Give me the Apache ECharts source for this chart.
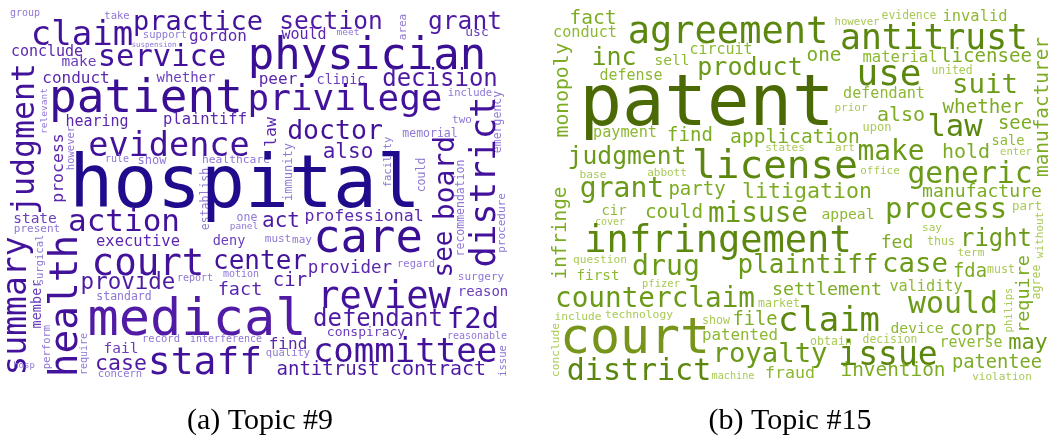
<!DOCTYPE html>
<html>
<head>
    <meta charset="utf-8">
    <style>
        html, body { margin: 0; padding: 0; background: #ffffff; }
        #chart { width: 1052px; height: 443px; }
    </style>
    <script src="https://cdn.jsdelivr.net/npm/echarts@6/dist/echarts.min.js"></script>
</head>
<body>
<div id="chart"></div>
<script type="text/javascript">
    // Topic #9 (left cloud): word, weight, placement in the picture, vertical flag
    var words9 = ["group","claim","take","practice","support","suspension","conclude","service","make","conduct",
        "whether","judgment","patient","relevant","hearing","plaintiff","evidence","process","however","rule",
        "show","section","gordon","would","meet","physician","peer","clinic","privilege","law",
        "doctor","also","healthcare","immunity","establish","grant","area","usc","decision","include",
        "emergency","two","memorial","district","facility","could","board","see","recommendation","procedure",
        "hospital","professional","care","regard","provider","surgery","review","reason","defendant","f2d",
        "conspiracy","reasonable","committee","issue","antitrust","contract","action","state","present","executive",
        "summary","surgical","health","court","provide","member","standard","medical","perform","record",
        "fail","require","case","staff","hosp","concern","act","one","panel","deny",
        "must","may","center","cir","report","motion","fact","interference","find","quality"];
    var weight9 = [10,34,10.5,27,10.5,7.5,15,30.5,14.5,16,
        14,31.5,46,9.5,15,15.5,33.5,16.5,10.5,10,
        12,24.5,16,15,9.5,44,16,13.5,36,16.5,
        26.5,21,11.3,12,11.5,24.5,11,13,24,10.5,
        11.5,11,11.5,35.5,10.5,11.5,28,26,11.5,11,
        73,16.5,45.5,10.5,17.5,11,37,14,24,29,
        13,10,34,10.5,19,20,31,14.5,11,15.5,
        33,10.5,39.5,37.5,22.5,13.5,11.5,52,10.5,10.5,
        14.5,10,21.5,38,9,10.5,21,11.5,9.5,13.5,
        11,11,26,19,10,10,18.5,10,16,10.5];
    var x9 = [25,82,117,198,165,154,47,162,79,76,
        186,26,146,45,97,205,169,59,71,117,
        152,331,218,304,348,367,278,341,345,272,
        335,348,236,289,206,465,403,477,440,470,
        498,462,430,486,388,422,447,445,461,502,
        245,364,368,416,350,481,384,483,378,473,
        366,477,405,503,328,438,124,35,37,138,
        17,40,67,148,128,37,124,197,47,161,
        121,84,121,205,24,120,281,247,244,229,
        278,302,260,290,195,241,240,226,288,288];
    var y9 = [13,36,16,23,35,45,52,58,62,79,
        78,139,100,111,122,120,147,168,148,159,
        161,23,37,35,33,58,80,80,101,132,
        132,153,160,172,199,23,27,33,80,93,
        122,120,134,182,162,175,178,254,208,223,
        188,217,240,264,268,277,298,292,320,320,
        333,336,353,361,370,370,223,219,229,242,
        306,260,306,265,283,304,297,321,347,339,
        349,354,364,364,366,374,222,218,227,241,
        239,240,262,281,278,274,290,339,345,353];
    var vert9 = [0,0,0,0,0,0,0,0,0,0,
        0,1,0,1,0,0,0,1,1,0,
        0,0,0,0,0,0,0,0,0,1,
        0,0,0,1,1,0,1,0,0,0,
        1,0,0,1,1,1,1,1,1,1,
        0,0,0,0,0,0,0,0,0,0,
        0,0,0,1,0,0,0,0,0,0,
        1,1,1,0,0,1,0,0,1,0,
        0,1,0,0,0,0,0,0,0,0,
        0,0,0,0,0,0,0,0,0,0];

    // Topic #15 (right cloud)
    var words15 = ["fact","conduct","agreement","inc","monopoly","sell","circuit","defense","patent","payment",
        "find","judgment","base","abbott","license","however","antitrust","product","one","material",
        "use","defendant","prior","upon","also","application","states","art","make","office",
        "party","litigation","evidence","invalid","licensee","united","suit","manufacturer","whether","law",
        "see","sale","hold","enter","generic","manufacture","grant","infringe","cir","could",
        "cover","infringement","drug","question","first","pfizer","misuse","appeal","counterclaim","plaintiff",
        "settlement","market","include","technology","show","file","court","patented","claim","conclude",
        "district","royalty","obtain","decision","issue","machine","fraud","invention","process","part",
        "say","without","fed","thus","right","term","case","fda","must","require",
        "agree","validity","would","philips","device","corp","may","reverse","patentee","violation"];
    var weight15 = [19.5,15.2,37,25,19.7,14.5,15,15,70.6,15.2,
        19,24.7,11.2,11,39.4,10.7,34.7,25,19.4,15.6,
        36,15.1,11,12,20,19.6,11,11,27.8,11,
        19,21.6,11.4,15.4,19.1,11.4,27.4,19.4,19.2,30.5,
        18.8,13.7,20,10.6,29.7,18.1,28,19.3,13.8,19.3,
        10,37,28.2,11.2,14.3,10.5,27.7,14.7,27.7,26,
        18.3,11.6,11.2,11.3,11.6,18.7,49.8,15.8,33.9,11.2,
        30,27.3,11.6,11.4,33,10.2,16.6,19.4,29,12.5,
        11,11,18,11.6,23.9,11.2,27.4,18.8,11.6,18.5,
        11.6,15.2,29.9,10.7,14.7,19.5,22,15,18.7,11];
    var x15 = [593,585,728,614,563,672,721,631,707,625,
        690,627,593,667,775,857,934,750,824,900,
        889,884,851,877,901,795,785,845,891,880,
        697,807,909,975,986,952,985,1043,983,955,
        1015,1008,966,1016,970,982,622,561,614,674,
        610,718,666,600,598,661,758,848,655,808,
        827,779,578,639,716,755,635,740,829,556,
        639,770,831,890,888,733,790,893,946,1027,
        932,1040,897,941,996,971,915,970,1001,1024,
        1037,926,953,1009,917,973,1028,971,997,1002];
    var y15 = [19,33,33,58,90,61,50,76,107,133,
        136,158,175,173,168,22,40,68,56,58,
        76,94,108,128,116,138,148,148,153,171,
        190,192,16,17,57,71,86,107,108,128,
        124,141,153,152,175,192,190,233,211,213,
        222,242,268,260,276,284,215,215,300,266,
        290,304,317,315,321,320,340,336,322,350,
        372,355,342,340,356,376,374,371,210,207,
        228,235,243,242,240,253,265,272,270,294,
        282,287,305,310,329,330,343,343,363,377];
    var vert15 = [0,0,0,0,1,0,0,0,0,0,
        0,0,0,0,0,0,0,0,0,0,
        0,0,0,0,0,0,0,0,0,0,
        0,0,0,0,0,0,0,1,0,0,
        0,0,0,0,0,0,0,1,0,0,
        0,0,0,0,0,0,0,0,0,0,
        0,0,0,0,0,0,0,0,0,1,
        0,0,0,0,0,0,0,0,0,0,
        0,1,0,0,0,0,0,0,0,1,
        1,0,0,1,0,0,0,0,0,0];

    var captions = ["(a) Topic #9", "(b) Topic #15"];

    function purple(w) {
        if (w >= 60) return '#1f0b8b';
        if (w >= 50) return '#521ba6';
        if (w >= 40) return '#3a0f94';
        if (w >= 26) return '#43129b';
        if (w >= 19) return '#4e1aa4';
        if (w >= 15) return '#5b27ae';
        if (w >= 12.5) return '#6a3dbb';
        return '#9077d5';
    }
    function green(w) {
        if (w >= 60) return '#4b6a06';
        if (w >= 40) return '#76951a';
        if (w >= 30) return '#5b870f';
        if (w >= 22) return '#6a9a17';
        if (w >= 17) return '#7bac22';
        if (w >= 13) return '#8db932';
        return '#a9ca55';
    }

    function buildData(words, weights, xs, ys, vert, colorFn) {
        return words.map(function (w, i) {
            return {
                name: w,
                value: [xs[i], ys[i]],
                label: {
                    fontSize: weights[i],
                    rotate: vert[i] ? 90 : 0,
                    color: colorFn(weights[i])
                }
            };
        });
    }

    function cloudSeries(data) {
        return {
            type: 'scatter',
            symbol: 'circle',
            symbolSize: 1,
            itemStyle: { color: 'rgba(255,255,255,0)', opacity: 1 },
            silent: true,
            clip: false,
            label: {
                show: true,
                position: 'inside',
                formatter: '{b}',
                fontFamily: 'DejaVu Sans Mono',
                align: 'center',
                verticalAlign: 'middle',
                opacity: 1
            },
            labelLayout: { hideOverlap: false },
            data: data
        };
    }

    var myChart = echarts.init(document.getElementById('chart'));
    myChart.setOption({
        animation: false,
        backgroundColor: '#ffffff',
        grid: { left: 0, right: 0, top: 0, bottom: 0 },
        xAxis: { type: 'value', min: 0, max: 1052, show: false },
        yAxis: { type: 'value', min: 0, max: 443, inverse: true, show: false },
        graphic: [
            { type: 'text', x: 260, y: 421, style: { text: captions[0], align: 'center', verticalAlign: 'middle', font: '30px "Liberation Serif"', fill: '#000' } },
            { type: 'text', x: 790, y: 421, style: { text: captions[1], align: 'center', verticalAlign: 'middle', font: '30px "Liberation Serif"', fill: '#000' } }
        ],
        series: [
            cloudSeries(buildData(words9, weight9, x9, y9, vert9, purple)),
            cloudSeries(buildData(words15, weight15, x15, y15, vert15, green))
        ]
    });
</script>
</body>
</html>
